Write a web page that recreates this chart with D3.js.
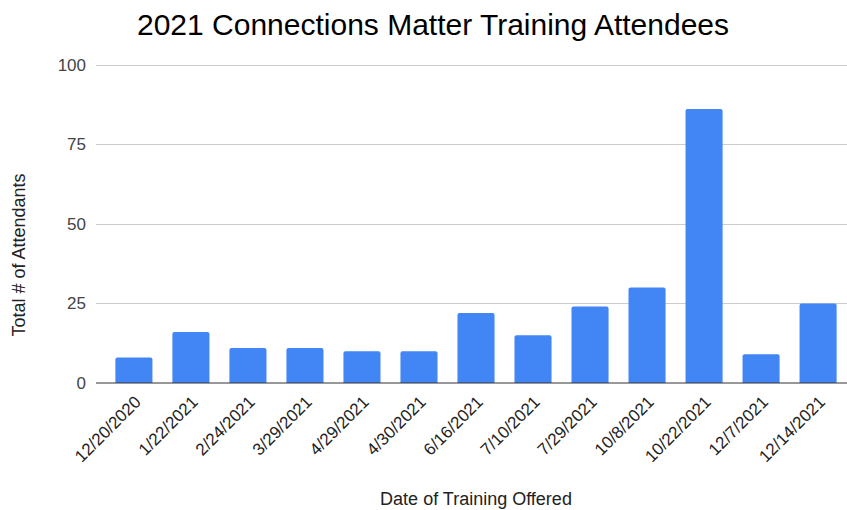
<!DOCTYPE html>
<html>
<head>
<meta charset="utf-8">
<script src="https://cdn.jsdelivr.net/npm/d3@7"></script>
<style>
  body { margin: 0; background: #fff; }
  svg { display: block; font-family: "Liberation Sans", Arial, sans-serif; }
</style>
</head>
<body>
<div id="chart"></div>
<script>
// chart values
var dates = ["12/20/2020", "1/22/2021", "2/24/2021", "3/29/2021", "4/29/2021", "4/30/2021",
    "6/16/2021", "7/10/2021", "7/29/2021", "10/8/2021", "10/22/2021", "12/7/2021", "12/14/2021"];
var attendees = [8, 16, 11, 11, 10, 10, 22, 15, 24, 30, 86, 9, 25];
var yTicks = [0, 25, 50, 75, 100];

var width = 847, height = 510;

var svg = d3.select("#chart").append("svg")
    .attr("width", width)
    .attr("height", height);

var x = d3.scaleBand()
    .domain(dates)
    .range([96, 856])
    .paddingInner(0.35)
    .paddingOuter(0.34);

var y = d3.scaleLinear()
    .domain([0, 100])
    .range([383, 64.5]);

// gridlines
svg.append("g")
    .selectAll("line")
    .data(yTicks.filter(d => d > 0))
    .join("line")
    .attr("x1", 96)
    .attr("x2", 856)
    .attr("y1", d => Math.round(y(d)) + 0.5)
    .attr("y2", d => Math.round(y(d)) + 0.5)
    .attr("stroke", "#ccc")
    .attr("stroke-width", 1);

// y tick labels
svg.append("g")
    .selectAll("text")
    .data(yTicks)
    .join("text")
    .attr("x", 86)
    .attr("y", d => y(d) + 6)
    .attr("text-anchor", "end")
    .attr("font-size", 17)
    .attr("fill", "#444")
    .text(d => d);

// bars with slightly rounded tops
function barPath(d, i) {
    var x0 = x(dates[i]), w = x.bandwidth(), y0 = y(0), y1 = y(d), r = 2;
    return "M" + x0 + "," + y0 +
        "V" + (y1 + r) +
        "Q" + x0 + "," + y1 + " " + (x0 + r) + "," + y1 +
        "H" + (x0 + w - r) +
        "Q" + (x0 + w) + "," + y1 + " " + (x0 + w) + "," + (y1 + r) +
        "V" + y0 + "Z";
}

svg.append("g")
    .selectAll("path")
    .data(attendees)
    .join("path")
    .attr("d", barPath)
    .attr("fill", "#4285f4");

// baseline
svg.append("line")
    .attr("x1", 96)
    .attr("x2", 856)
    .attr("y1", y(0))
    .attr("y2", y(0))
    .attr("stroke", "#333")
    .attr("stroke-width", 1.2);

// x tick labels
svg.append("g")
    .selectAll("text")
    .data(dates)
    .join("text")
    .attr("transform", d => "translate(" + (x(d) + x.bandwidth() / 2 + 8) + ",403) rotate(-45)")
    .attr("text-anchor", "end")
    .attr("font-size", 17)
    .attr("fill", "#222")
    .text(d => d);

// titles
svg.append("text")
    .attr("x", 433)
    .attr("y", 35)
    .attr("text-anchor", "middle")
    .attr("font-size", 30)
    .attr("fill", "#000")
    .text("2021 Connections Matter Training Attendees");

svg.append("text")
    .attr("x", 476)
    .attr("y", 505)
    .attr("text-anchor", "middle")
    .attr("font-size", 18)
    .attr("fill", "#222")
    .text("Date of Training Offered");

svg.append("text")
    .attr("transform", "translate(25,255) rotate(-90)")
    .attr("text-anchor", "middle")
    .attr("font-size", 18)
    .attr("fill", "#222")
    .text("Total # of Attendants");
</script>
</body>
</html>
